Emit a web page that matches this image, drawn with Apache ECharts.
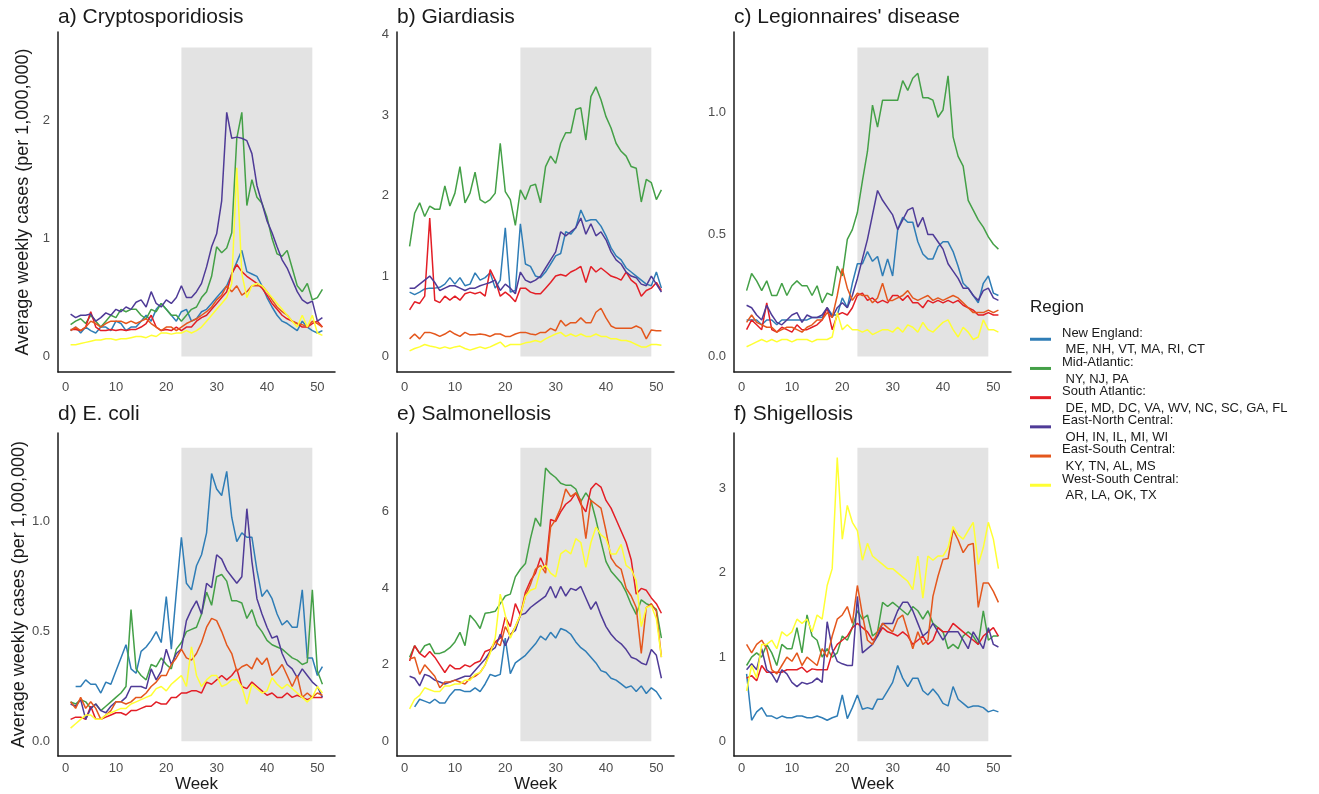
<!DOCTYPE html>
<html>
<head>
<meta charset="utf-8">
<title>Average weekly cases by region</title>
<script src="https://cdn.jsdelivr.net/npm/echarts@6/dist/echarts.min.js"></script>
<style>
  html, body { margin: 0; padding: 0; background: #ffffff; }
  #chart { width: 1319px; height: 794px; }
</style>
</head>
<body>
<div id="chart"></div>
<script>
// ---- Data ---------------------------------------------------------------
const weeks = [1,2,3,4,5,6,7,8,9,10,11,12,13,14,15,16,17,18,19,20,21,22,23,24,25,26,
  27,28,29,30,31,32,33,34,35,36,37,38,39,40,41,42,43,44,45,46,47,48,49,50,51];

const regions = ['New England', 'Mid-Atlantic', 'South Atlantic',
  'East-North Central', 'East-South Central', 'West-South Central'];
const regionStates = ['ME, NH, VT, MA, RI, CT', 'NY, NJ, PA',
  'DE, MD, DC, VA, WV, NC, SC, GA, FL', 'OH, IN, IL, MI, WI',
  'KY, TN, AL, MS', 'AR, LA, OK, TX'];
const regionColors = ['#2f7db6', '#44a047', '#e31e26', '#4f3b97', '#e4571d', '#ffff33'];

const panelTitles = ['a) Cryptosporidiosis', 'b) Giardiasis', "c) Legionnaires' disease",
  'd) E. coli', 'e) Salmonellosis', 'f) Shigellosis'];

// summer period shaded in every panel (weeks) and the height of the shading
const shadeWeeks = [23, 49];
const shadeTops = [2.62, 3.84, 1.266, 1.338, 7.68, 3.486];

const weekTicks = [0, 10, 20, 30, 40, 50];
const yTicks = [[0, 1, 2], [0, 1, 2, 3, 4], [0, 0.5, 1.0], [0, 0.5, 1.0], [0, 2, 4, 6], [0, 1, 2, 3]];
const yDecimals = [0, 0, 1, 1, 0, 0];

// a) Cryptosporidiosis
const cryptoNE = [0.22,0.25,0.20,0.25,0.22,0.20,0.25,0.25,0.22,0.30,
  0.28,0.22,0.25,0.25,0.30,0.35,0.30,0.40,0.45,0.40,
  0.35,0.30,0.38,0.40,0.30,0.32,0.38,0.40,0.45,0.50,
  0.55,0.60,0.70,0.80,0.90,0.72,0.70,0.68,0.60,0.50,
  0.42,0.35,0.30,0.28,0.25,0.22,0.30,0.25,0.22,0.20,0.22];
const cryptoMA = [0.27,0.30,0.32,0.28,0.35,0.30,0.25,0.30,0.35,0.33,
  0.40,0.38,0.40,0.40,0.35,0.32,0.40,0.38,0.45,0.40,
  0.35,0.35,0.30,0.35,0.40,0.42,0.50,0.55,0.68,0.93,
  0.88,0.92,1.05,1.85,2.07,1.28,1.50,1.35,1.30,1.18,
  1.00,0.87,0.85,0.90,0.75,0.60,0.55,0.62,0.48,0.50,0.57];
const cryptoSA = [0.23,0.23,0.22,0.25,0.38,0.25,0.22,0.22,0.23,0.22,
  0.23,0.22,0.23,0.23,0.25,0.28,0.35,0.25,0.22,0.23,
  0.22,0.25,0.22,0.25,0.25,0.30,0.33,0.35,0.40,0.45,
  0.50,0.55,0.70,0.78,0.72,0.68,0.65,0.62,0.58,0.52,
  0.45,0.40,0.35,0.32,0.30,0.28,0.25,0.25,0.28,0.30,0.25];
const cryptoENC = [0.36,0.33,0.35,0.35,0.36,0.30,0.33,0.37,0.35,0.40,
  0.38,0.42,0.40,0.46,0.48,0.42,0.55,0.45,0.42,0.48,
  0.45,0.50,0.60,0.50,0.50,0.55,0.62,0.76,0.93,1.04,
  1.32,2.07,1.85,1.86,1.85,1.83,1.72,1.45,1.30,1.15,
  1.05,0.93,0.82,0.75,0.65,0.55,0.48,0.45,0.47,0.30,0.33];
const cryptoESC = [0.22,0.25,0.22,0.25,0.30,0.28,0.25,0.28,0.30,0.30,
  0.30,0.28,0.30,0.28,0.30,0.32,0.28,0.25,0.22,0.25,
  0.25,0.22,0.25,0.28,0.30,0.32,0.35,0.38,0.42,0.48,
  0.52,0.60,0.55,0.60,0.52,0.55,0.60,0.60,0.60,0.55,
  0.48,0.42,0.38,0.35,0.30,0.28,0.27,0.25,0.30,0.28,0.25];
const cryptoWSC = [0.10,0.10,0.11,0.12,0.13,0.14,0.14,0.15,0.15,0.14,
  0.15,0.15,0.16,0.17,0.17,0.16,0.18,0.17,0.20,0.20,
  0.19,0.20,0.20,0.22,0.20,0.22,0.25,0.30,0.35,0.40,
  0.45,0.50,0.62,1.60,0.70,0.50,0.60,0.62,0.60,0.55,
  0.50,0.45,0.40,0.35,0.30,0.25,0.35,0.25,0.35,0.20,0.18];

// b) Giardiasis
const giardiaNE = [0.80,0.77,0.80,0.84,0.85,0.85,0.86,0.90,0.98,0.90,
  0.98,0.88,0.90,1.04,0.95,0.98,1.04,0.85,0.95,1.60,
  0.80,0.82,1.65,1.15,1.12,1.00,0.98,1.05,1.15,1.25,
  1.28,1.55,1.52,1.60,1.82,1.68,1.70,1.70,1.62,1.50,
  1.35,1.25,1.20,1.10,1.05,1.00,0.95,0.90,0.88,1.05,0.85];
const giardiaMA = [1.37,1.78,1.91,1.74,1.87,1.83,1.83,2.12,1.87,2.03,
  2.36,1.91,2.03,2.29,1.95,1.91,1.95,2.03,2.65,2.05,
  1.95,1.63,2.07,1.95,2.12,2.14,1.91,2.36,2.49,2.40,
  2.65,2.78,2.78,3.07,3.09,2.69,3.23,3.35,3.19,2.98,
  2.84,2.65,2.55,2.49,2.36,2.34,1.92,2.20,2.16,1.95,2.07];
const giardiaSA = [0.58,0.68,0.66,0.75,1.72,0.70,0.67,0.75,0.70,0.75,
  0.70,0.78,0.80,0.78,0.80,0.75,1.08,0.95,0.75,0.80,
  0.75,0.68,0.85,0.85,0.80,0.78,0.78,0.85,0.92,1.00,
  1.02,1.00,1.05,1.08,1.12,0.92,1.12,1.05,1.10,1.05,
  1.00,0.98,0.95,1.05,0.95,0.90,0.75,0.82,0.85,0.92,0.82];
const giardiaENC = [0.85,0.85,0.90,0.95,1.00,0.92,0.82,0.85,0.88,0.88,
  0.85,0.82,0.85,0.85,0.88,0.90,0.92,0.95,0.82,0.90,
  0.85,0.78,1.05,0.95,0.92,0.95,1.00,1.10,1.20,1.30,
  1.55,1.50,1.55,1.60,1.72,1.52,1.65,1.50,1.55,1.45,
  1.30,1.20,1.15,1.05,1.00,0.98,0.90,0.88,1.00,0.90,0.80];
const giardiaESC = [0.22,0.28,0.22,0.30,0.30,0.28,0.25,0.28,0.32,0.28,
  0.25,0.30,0.27,0.27,0.28,0.27,0.25,0.28,0.28,0.25,
  0.25,0.28,0.30,0.30,0.28,0.27,0.30,0.30,0.35,0.32,
  0.45,0.38,0.42,0.42,0.48,0.42,0.42,0.55,0.60,0.48,
  0.38,0.35,0.35,0.35,0.35,0.38,0.35,0.22,0.33,0.32,0.32];
const giardiaWSC = [0.07,0.10,0.12,0.15,0.13,0.12,0.10,0.12,0.10,0.12,
  0.13,0.10,0.08,0.10,0.12,0.10,0.12,0.15,0.18,0.12,
  0.15,0.15,0.15,0.17,0.18,0.20,0.18,0.22,0.25,0.28,
  0.30,0.25,0.28,0.25,0.28,0.25,0.25,0.28,0.25,0.25,
  0.22,0.22,0.20,0.20,0.18,0.15,0.12,0.12,0.15,0.15,0.14];

// c) Legionnaires' disease
const legionNE = [0.15,0.15,0.15,0.13,0.15,0.15,0.13,0.15,0.15,0.15,
  0.15,0.15,0.15,0.16,0.16,0.16,0.20,0.17,0.17,0.24,
  0.20,0.30,0.38,0.38,0.43,0.39,0.41,0.33,0.40,0.33,
  0.52,0.57,0.55,0.55,0.47,0.42,0.40,0.40,0.45,0.47,
  0.47,0.43,0.37,0.30,0.28,0.25,0.22,0.30,0.33,0.26,0.25];
const legionMA = [0.27,0.34,0.31,0.27,0.31,0.25,0.25,0.30,0.25,0.29,
  0.31,0.29,0.29,0.25,0.29,0.22,0.26,0.25,0.37,0.33,
  0.48,0.52,0.59,0.72,0.84,1.03,0.94,1.05,1.05,1.05,
  1.05,1.13,1.09,1.14,1.16,1.06,1.06,1.05,0.98,1.01,
  1.15,0.90,0.82,0.78,0.64,0.60,0.56,0.53,0.49,0.46,0.44];
const legionSA = [0.11,0.15,0.13,0.11,0.22,0.11,0.10,0.12,0.11,0.10,
  0.13,0.11,0.11,0.12,0.13,0.15,0.20,0.11,0.17,0.18,
  0.17,0.20,0.25,0.26,0.23,0.24,0.22,0.23,0.22,0.25,
  0.25,0.23,0.25,0.22,0.22,0.20,0.23,0.22,0.23,0.22,
  0.23,0.22,0.23,0.21,0.20,0.19,0.17,0.17,0.18,0.17,0.17];
const legionENC = [0.21,0.20,0.17,0.15,0.21,0.17,0.14,0.13,0.15,0.17,
  0.18,0.14,0.17,0.16,0.16,0.17,0.20,0.16,0.20,0.22,
  0.20,0.25,0.32,0.40,0.48,0.58,0.68,0.64,0.61,0.58,
  0.52,0.56,0.60,0.61,0.53,0.57,0.50,0.50,0.47,0.44,
  0.38,0.35,0.32,0.28,0.28,0.25,0.23,0.27,0.28,0.24,0.23];
const legionESC = [0.14,0.17,0.14,0.13,0.12,0.12,0.10,0.11,0.12,0.12,
  0.11,0.10,0.12,0.13,0.15,0.15,0.18,0.16,0.25,0.36,
  0.28,0.23,0.26,0.25,0.25,0.22,0.24,0.30,0.23,0.23,
  0.24,0.25,0.27,0.24,0.23,0.24,0.25,0.23,0.24,0.23,
  0.24,0.25,0.24,0.22,0.20,0.18,0.18,0.18,0.19,0.18,0.19];
const legionWSC = [0.04,0.05,0.06,0.07,0.06,0.07,0.06,0.07,0.07,0.06,
  0.07,0.07,0.07,0.06,0.07,0.07,0.07,0.08,0.18,0.11,
  0.13,0.11,0.11,0.10,0.11,0.09,0.10,0.11,0.11,0.10,
  0.12,0.10,0.13,0.12,0.10,0.14,0.11,0.10,0.12,0.14,
  0.15,0.11,0.08,0.12,0.10,0.07,0.08,0.15,0.11,0.11,0.10];

// d) E. coli
const ecoliNE = [null,0.25,0.25,0.28,0.26,0.26,0.22,0.27,0.26,0.32,
  0.38,0.44,0.33,0.31,0.41,0.43,0.46,0.50,0.45,0.66,
  0.42,0.68,0.93,0.72,0.69,0.80,0.85,0.95,1.22,1.15,
  1.12,1.23,1.02,0.91,0.95,0.93,0.93,0.78,0.66,0.69,
  0.65,0.58,0.53,0.55,0.52,0.52,0.69,0.38,0.38,0.30,0.34];
const ecoliMA = [0.18,0.17,0.19,0.18,0.15,0.17,0.14,0.16,0.18,0.20,
  0.22,0.25,0.60,0.33,0.30,0.28,0.35,0.34,0.38,0.35,
  0.33,0.42,0.45,0.50,0.51,0.52,0.58,0.68,0.62,0.75,
  0.76,0.73,0.64,0.64,0.63,0.56,0.60,0.53,0.50,0.46,
  0.44,0.43,0.42,0.40,0.38,0.37,0.35,0.36,0.69,0.32,0.26];
const ecoliSA = [0.10,0.11,0.11,0.10,0.16,0.10,0.10,0.11,0.12,0.13,
  0.13,0.12,0.14,0.14,0.15,0.16,0.16,0.18,0.17,0.17,
  0.20,0.20,0.22,0.22,0.23,0.23,0.22,0.27,0.26,0.28,
  0.30,0.28,0.30,0.33,0.25,0.24,0.27,0.25,0.23,0.21,
  0.22,0.20,0.20,0.22,0.20,0.21,0.20,0.19,0.20,0.20,0.20];
const ecoliENC = [0.17,0.16,0.19,0.10,0.15,0.17,0.14,0.13,0.16,0.18,
  0.18,0.20,0.25,0.25,0.25,0.24,0.33,0.28,0.32,0.42,
  0.35,0.40,0.42,0.55,0.60,0.64,0.58,0.72,0.70,0.85,
  0.83,0.78,0.75,0.72,0.75,1.06,0.82,0.65,0.58,0.52,
  0.47,0.48,0.40,0.35,0.33,0.29,0.33,0.30,0.27,0.25,0.20];
const ecoliESC = [0.18,0.15,0.20,0.15,0.18,0.15,0.10,0.12,0.14,0.18,
  0.18,0.17,0.18,0.20,0.20,0.22,0.25,0.27,0.30,0.30,
  0.35,0.38,0.42,0.38,0.37,0.40,0.45,0.52,0.56,0.55,
  0.50,0.44,0.40,0.32,0.34,0.35,0.33,0.38,0.35,0.38,
  0.30,0.32,0.35,0.30,0.25,0.30,0.20,0.22,0.20,0.22,0.21];
const ecoliWSC = [0.06,0.08,0.10,0.12,0.12,0.10,0.10,0.12,0.13,0.14,
  0.15,0.15,0.17,0.18,0.19,0.20,0.21,0.24,0.25,0.23,
  0.26,0.28,0.30,0.25,0.43,0.30,0.25,0.28,0.30,0.30,
  0.25,0.26,0.28,0.28,0.25,0.17,0.26,0.24,0.22,0.23,
  0.29,0.26,0.24,0.26,0.24,0.22,0.20,0.18,0.20,0.25,0.22];

// e) Salmonellosis
const salmNE = [null,0.90,1.10,1.05,1.00,1.10,1.00,1.00,1.20,1.35,
  1.35,1.30,1.30,1.40,1.30,1.50,1.75,1.70,1.75,2.70,
  1.77,2.05,2.15,2.25,2.40,2.55,2.75,2.65,2.85,2.70,
  2.95,2.90,2.80,2.60,2.45,2.35,2.20,2.05,1.85,1.80,
  1.65,1.60,1.50,1.40,1.45,1.30,1.45,1.25,1.40,1.30,1.10];
const salmMA = [2.20,2.50,2.30,2.50,2.55,2.30,2.30,2.35,2.45,2.60,
  2.85,2.50,3.30,3.15,2.95,3.35,3.37,3.40,3.60,3.80,
  3.85,4.30,4.50,4.65,5.30,5.84,5.62,7.15,7.00,6.90,
  6.75,6.70,6.70,6.60,6.27,6.50,6.30,5.80,5.23,4.70,
  4.45,4.30,4.15,3.90,3.58,3.32,3.70,3.60,3.55,3.45,2.70];
const salmSA = [2.10,2.50,2.30,2.20,2.35,2.20,2.00,1.80,2.00,1.90,
  1.90,2.00,1.95,2.05,2.10,2.35,2.40,2.60,2.70,3.25,
  3.00,3.60,3.30,3.90,4.20,4.40,4.80,4.50,5.80,5.75,
  6.00,6.20,6.30,6.50,6.20,6.00,6.60,6.75,6.65,6.30,
  6.10,5.80,5.50,5.20,4.75,3.85,4.00,3.95,3.75,3.60,3.35];
const salmENC = [1.70,1.65,1.45,1.75,1.70,1.60,1.55,1.50,1.55,1.60,
  1.65,1.70,1.70,1.85,2.00,2.15,2.35,2.45,2.80,2.50,
  2.80,2.90,3.30,3.35,3.50,3.60,3.70,3.80,4.05,3.75,
  4.05,3.80,4.00,3.95,4.05,3.75,3.45,3.65,3.30,3.00,
  2.80,2.65,2.55,2.40,2.20,2.15,2.05,2.00,2.40,2.25,1.65];
const salmESC = [2.15,2.20,1.75,2.00,1.85,1.70,1.40,1.55,1.55,1.60,
  1.55,1.50,1.65,1.70,1.80,2.00,2.35,2.60,2.50,3.00,
  2.75,3.00,3.30,3.80,4.10,4.50,4.60,4.40,5.60,5.80,
  6.10,6.60,6.40,6.50,6.30,5.30,6.30,6.20,6.10,5.50,
  4.80,4.60,4.50,4.00,3.80,3.50,2.30,3.50,3.60,3.40,2.20];
const salmWSC = [0.85,1.10,1.20,1.40,1.35,1.30,1.30,1.45,1.45,1.50,
  1.50,1.60,1.60,1.75,1.80,2.00,2.30,2.70,3.85,3.30,
  2.70,3.00,3.30,3.80,3.95,4.00,4.50,4.60,4.40,4.30,
  4.90,5.00,4.90,5.30,5.20,4.55,5.20,5.60,5.40,5.30,
  4.90,4.90,5.15,4.60,4.50,4.20,3.00,3.50,3.55,3.20,2.20];

// f) Shigellosis
const shigNE = [0.80,0.25,0.35,0.40,0.30,0.30,0.27,0.30,0.28,0.28,
  0.30,0.30,0.28,0.28,0.30,0.28,0.25,0.28,0.30,0.55,
  0.27,0.40,0.55,0.38,0.40,0.38,0.50,0.50,0.60,0.70,
  0.90,0.75,0.65,0.75,0.75,0.60,0.55,0.62,0.55,0.45,
  0.42,0.65,0.50,0.45,0.40,0.42,0.42,0.40,0.35,0.37,0.35];
const shigMA = [0.90,1.00,1.05,1.00,1.15,1.05,0.90,1.15,1.10,1.10,
  1.35,1.05,1.50,1.25,1.20,1.00,1.10,1.00,1.05,1.25,
  1.20,1.35,1.55,1.45,1.50,1.25,1.30,1.65,1.60,1.65,
  1.60,1.55,1.50,1.60,1.55,1.45,1.55,1.40,1.35,1.30,
  1.10,1.15,1.10,1.25,1.30,1.25,1.15,1.55,1.20,1.25,1.25];
const shigSA = [0.75,0.78,0.72,0.90,0.82,0.82,0.82,0.82,0.85,0.85,
  0.85,0.88,0.82,0.86,0.85,0.85,0.85,1.05,1.15,1.20,
  1.25,1.35,1.40,1.35,1.30,1.20,1.25,1.35,1.30,1.28,
  1.25,1.30,1.25,1.15,1.20,1.25,1.15,1.20,1.35,1.30,
  1.30,1.40,1.35,1.30,1.25,1.20,1.15,1.25,1.30,1.35,1.25];
const shigENC = [0.85,0.92,0.85,1.10,0.85,0.80,0.70,0.85,0.80,0.70,
  0.65,0.70,0.68,0.70,0.75,0.70,1.42,1.10,0.95,0.92,
  0.90,0.90,1.72,1.05,1.10,1.15,1.25,1.40,1.40,1.40,
  1.55,1.65,1.65,1.55,1.40,1.25,1.30,1.40,1.30,1.20,
  1.30,1.30,1.30,1.20,1.10,1.30,1.20,1.10,1.35,1.15,1.12];
const shigESC = [1.15,1.05,1.15,1.20,1.10,0.85,0.80,0.90,1.00,0.95,
  1.05,0.90,1.00,0.95,0.90,1.10,1.00,1.25,1.45,1.50,
  1.60,1.40,1.85,1.50,1.20,1.15,1.30,1.40,1.35,1.30,
  1.45,1.50,1.30,1.10,1.30,1.15,1.20,1.72,1.96,2.16,
  2.17,2.51,2.39,2.24,2.33,2.35,1.59,1.88,1.88,1.78,1.65];
const shigWSC = [0.60,0.90,0.75,1.15,1.15,1.20,1.10,1.30,1.25,1.30,
  1.45,1.40,1.45,1.30,1.50,1.45,1.85,2.05,3.37,2.40,
  2.80,2.60,2.50,2.15,2.35,2.20,2.15,2.10,2.05,2.05,
  2.00,1.95,1.90,1.80,2.20,1.70,2.20,2.15,2.20,2.20,
  2.30,2.55,2.45,2.40,2.50,2.60,2.10,2.30,2.60,2.40,2.05];

const panelSeries = [
  [cryptoNE, cryptoMA, cryptoSA, cryptoENC, cryptoESC, cryptoWSC],
  [giardiaNE, giardiaMA, giardiaSA, giardiaENC, giardiaESC, giardiaWSC],
  [legionNE, legionMA, legionSA, legionENC, legionESC, legionWSC],
  [ecoliNE, ecoliMA, ecoliSA, ecoliENC, ecoliESC, ecoliWSC],
  [salmNE, salmMA, salmSA, salmENC, salmESC, salmWSC],
  [shigNE, shigMA, shigSA, shigENC, shigESC, shigWSC]
];

// ---- Layout -------------------------------------------------------------
const FONT = '"Liberation Sans", Arial, Helvetica, sans-serif';
const INK = '#1a1a1a';
const TICK_INK = '#4d4d4d';
const colLeft = [58, 397, 734];
const rowTop = [32, 433];
const rowHeight = [340, 323];
const panelWidth = 277;

const grid = [], xAxis = [], yAxis = [], series = [], title = [], legend = [];

panelTitles.forEach((name, k) => {
  const row = Math.floor(k / 3), col = k % 3;
  const top = shadeTops[k];

  grid.push({ left: colLeft[col], top: rowTop[row], width: panelWidth, height: rowHeight[row] });

  title.push({
    text: name, left: colLeft[col], top: row === 0 ? 6.5 : 403.5, padding: 0,
    textStyle: { fontFamily: FONT, fontSize: 21, fontWeight: 'normal', color: INK, lineHeight: 22 }
  });

  xAxis.push({
    gridIndex: k, type: 'value', min: -1.5, max: 53.5,
    axisLine: { show: true, onZero: false, lineStyle: { color: INK, width: 1.5 } },
    axisTick: { show: false },
    splitLine: { show: false },
    axisLabel: { customValues: weekTicks, margin: row === 0 ? 9 : 6,
      color: TICK_INK, fontSize: 13, fontFamily: FONT },
    name: row === 1 ? 'Week' : '', nameLocation: 'middle', nameGap: 19,
    nameTextStyle: { fontFamily: FONT, fontSize: 17, color: INK }
  });

  yAxis.push({
    gridIndex: k, type: 'value', min: -0.05 * top, max: 1.05 * top,
    axisLine: { show: true, onZero: false, lineStyle: { color: INK, width: 1.5 } },
    axisTick: { show: false },
    splitLine: { show: false },
    axisLabel: { customValues: yTicks[k], margin: 8, color: TICK_INK, fontSize: 13,
      fontFamily: FONT, formatter: v => Number(v).toFixed(yDecimals[k]) },
    name: col === 0 ? 'Average weekly cases (per 1,000,000)' : '',
    nameLocation: 'middle', nameGap: 26,
    nameTextStyle: { fontFamily: FONT, fontSize: 18, color: INK }
  });

  // shaded summer weeks, drawn underneath the lines
  series.push({
    type: 'line', xAxisIndex: k, yAxisIndex: k, data: [], silent: true, z: 1,
    markArea: {
      silent: true,
      itemStyle: { color: '#e3e3e3' },
      data: [[{ xAxis: shadeWeeks[0], yAxis: 0 }, { xAxis: shadeWeeks[1], yAxis: top }]]
    }
  });

  panelSeries[k].forEach((values, r) => {
    series.push({
      name: regions[r], type: 'line', xAxisIndex: k, yAxisIndex: k, z: 2,
      data: weeks.map((w, i) => [w, values[i]]),
      showSymbol: false, symbol: 'none', connectNulls: false,
      itemStyle: { color: regionColors[r] },
      lineStyle: { color: regionColors[r], width: 1.5 },
      emphasis: { disabled: true }
    });
  });
});

title.push({
  text: 'Region', left: 1030, top: 297, padding: 0,
  textStyle: { fontFamily: FONT, fontSize: 17, fontWeight: 'normal', color: INK, lineHeight: 20 }
});

// one legend block per region: key line with a two-line label (region, states);
// the region line sits just above the key, the states line below it
regions.forEach((r, i) => {
  legend.push({
    data: [r], left: 1030, top: 326.5 + i * 29.2, padding: 0, orient: 'vertical',
    icon: 'rect', itemWidth: 21, itemHeight: 3,
    formatter: name => '{region|' + name + ':}\n{states| ' + regionStates[i] + '}',
    textStyle: {
      fontFamily: FONT, fontSize: 13, color: INK, padding: [0, 0, 0, 6],
      rich: {
        region: { fontFamily: FONT, fontSize: 13, color: INK, lineHeight: 21 },
        states: { fontFamily: FONT, fontSize: 13, color: INK, lineHeight: 12.5 }
      }
    }
  });
});

const chart = echarts.init(document.getElementById('chart'), null, { renderer: 'canvas' });
chart.setOption({
  backgroundColor: '#ffffff',
  animation: false,
  tooltip: { show: false },
  title, legend, grid, xAxis, yAxis, series
});
</script>
</body>
</html>
